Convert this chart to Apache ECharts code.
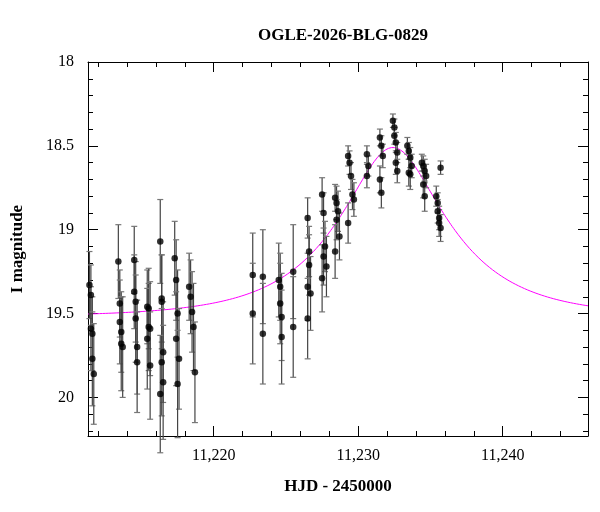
<!DOCTYPE html>
<html><head><meta charset="utf-8">
<script src="https://cdn.jsdelivr.net/npm/echarts@6/dist/echarts.min.js"></script>
<style>html,body{margin:0;padding:0;background:#fff}#c{width:600px;height:512px}</style>
</head><body><div id="c"></div>
<script>
// observation times (HJD-2450000)
const hjd = [
11211.4,11211.5,11211.5,11211.6,11211.6,11211.7,
11213.4,11213.5,11213.5,11213.6,11213.6,11213.7,
11214.5,11214.5,11214.6,11214.6,11214.7,11214.7,
11215.4,11215.5,11215.5,11215.6,11215.4,11215.6,
11216.3,11216.4,11216.4,11216.5,11216.4,11216.5,11216.3,
11217.3,11217.4,11217.5,11217.4,11217.6,11217.5,
11218.3,11218.4,11218.5,11218.6,11218.7,
11222.7,11222.7,
11223.4,11223.4,
11224.5,11224.6,11224.6,11224.7,11224.7,
11225.5,11225.5,
11226.5,11226.6,11226.6,11226.5,11226.7,11226.5,
11227.5,11227.6,11227.7,11227.6,11227.8,11227.5,
11228.4,11228.5,11228.6,11228.5,11228.7,11228.4,
11229.3,11229.4,11229.5,11229.6,11229.7,11229.3,
11230.6,11230.7,11230.6,
11231.5,11231.6,11231.7,11231.5,11231.6,
11232.4,11232.5,11232.5,11232.6,11232.7,11232.6,11232.7,
11233.4,11233.5,11233.6,11233.7,11233.5,11233.6,
11234.4,11234.5,11234.6,11234.7,11234.5,11234.6,
11235.7,11235.4,11235.5,11235.5,11235.6,11235.6,11235.7
];
// I magnitudes
const imag = [
19.33,19.39,19.59,19.62,19.77,19.86,
19.19,19.44,19.55,19.61,19.68,19.70,
19.18,19.37,19.43,19.53,19.70,19.79,
19.46,19.47,19.58,19.59,19.65,19.81,
19.07,19.41,19.43,19.73,19.79,19.91,19.98,
19.17,19.30,19.50,19.65,19.77,19.92,
19.34,19.40,19.49,19.58,19.85,
19.27,19.50,
19.28,19.62,
19.30,19.34,19.44,19.52,19.64,
19.25,19.58,
18.93,19.13,19.21,19.34,19.38,19.53,
18.79,18.90,19.10,19.16,19.22,19.29,
18.81,18.84,18.89,18.94,19.04,19.13,
18.56,18.60,18.68,18.79,18.82,18.96,
18.55,18.62,18.68,
18.45,18.50,18.56,18.70,18.78,
18.35,18.39,18.44,18.48,18.54,18.60,18.65,
18.50,18.53,18.57,18.62,18.66,18.67,
18.60,18.62,18.65,18.68,18.73,18.80,
18.63,18.80,18.84,18.89,18.93,18.96,18.99
];
// 1-sigma errors (mag)
const ierr = [
0.20,0.18,0.25,0.22,0.28,0.30,
0.22,0.20,0.25,0.24,0.28,0.30,
0.20,0.22,0.24,0.26,0.28,0.30,
0.22,0.24,0.26,0.28,0.30,0.32,
0.25,0.26,0.28,0.30,0.32,0.34,0.35,
0.22,0.24,0.26,0.28,0.30,0.32,
0.20,0.22,0.24,0.26,0.30,
0.25,0.30,
0.28,0.30,
0.22,0.20,0.24,0.26,0.28,
0.28,0.30,
0.12,0.15,0.18,0.20,0.22,0.24,
0.10,0.12,0.15,0.17,0.18,0.20,
0.08,0.10,0.12,0.12,0.14,0.16,
0.06,0.07,0.08,0.09,0.10,0.12,
0.05,0.06,0.07,
0.05,0.06,0.07,0.08,0.09,
0.04,0.05,0.05,0.06,0.06,0.07,0.07,
0.05,0.05,0.06,0.07,0.08,0.09,
0.05,0.06,0.07,0.07,0.08,0.09,
0.04,0.06,0.06,0.07,0.07,0.08,0.08
];
// Paczynski model parameters
const model = {t0: 11232.4, tE: 7.0, u0: 0.42, base: 19.52};
const xMin = 11211.3, xMax = 11245.9, yMin = 18, yMax = 20.23;

function modelMag(t){
  const tau=(t-model.t0)/model.tE, u=Math.sqrt(model.u0*model.u0+tau*tau);
  const A=(u*u+2)/(u*Math.sqrt(u*u+4));
  return model.base-2.5*Math.log10(A);
}
const curve=[];
for(let t=xMin;t<=xMax+1e-9;t+=0.1) curve.push([t,modelMag(t)]);
const pts=hjd.map((t,i)=>[t,imag[i],ierr[i]]);

const font='"Liberation Serif","DejaVu Serif",serif';
const chart=echarts.init(document.getElementById('c'));
const axBase={
  axisLine:{show:true,lineStyle:{color:'#000',width:1}},
  axisTick:{inside:true,length:10,lineStyle:{color:'#000'}},
  minorTick:{show:true,splitNumber:5,length:5,lineStyle:{color:'#000'}},
  splitLine:{show:false}
};
chart.setOption({
  animation:false,
  title:{text:'OGLE-2026-BLG-0829',left:338,top:22,textAlign:'center',
    textStyle:{fontFamily:font,fontSize:17,fontWeight:'bold',color:'#000'}},
  grid:{left:88,right:12,top:62,bottom:76},
  xAxis:[
    Object.assign({type:'value',min:xMin,max:xMax,splitNumber:4,position:'bottom',
      name:'HJD - 2450000',nameLocation:'middle',nameGap:42,
      nameTextStyle:{fontFamily:font,fontSize:17,fontWeight:'bold',color:'#000'},
      axisLabel:{fontFamily:font,fontSize:16,color:'#000',margin:12,showMinLabel:false,showMaxLabel:false}},axBase),
    Object.assign({type:'value',min:xMin,max:xMax,splitNumber:4,position:'top',axisLabel:{show:false}},axBase)
  ],
  yAxis:[
    Object.assign({type:'value',inverse:true,min:yMin,max:yMax,interval:0.5,position:'left',
      name:'I magnitude',nameLocation:'middle',nameGap:62,nameRotate:90,
      nameTextStyle:{fontFamily:font,fontSize:17,fontWeight:'bold',color:'#000'},
      axisLabel:{fontFamily:font,fontSize:16,color:'#000',margin:14,showMaxLabel:false,
        formatter:v=>String(+v.toFixed(1))}},axBase),
    Object.assign({type:'value',inverse:true,min:yMin,max:yMax,interval:0.5,position:'right',axisLabel:{show:false}},axBase)
  ],
  series:[
    {type:'line',data:curve,showSymbol:false,lineStyle:{color:'#ff00ff',width:1},z:1},
    {type:'custom',data:pts,z:2,renderItem:(p,api)=>{
      const t=api.value(0),m=api.value(1),e=api.value(2);
      const a=api.coord([t,m-e]),b=api.coord([t,m+e]);
      const st={stroke:'#444',lineWidth:1.2};
      return {type:'group',children:[
        {type:'line',shape:{x1:a[0],y1:a[1],x2:b[0],y2:b[1]},style:st},
        {type:'line',shape:{x1:a[0]-3,y1:a[1],x2:a[0]+3,y2:a[1]},style:{stroke:'#777',lineWidth:1.2}},
        {type:'line',shape:{x1:b[0]-3,y1:b[1],x2:b[0]+3,y2:b[1]},style:{stroke:'#777',lineWidth:1.2}}
      ]};
    }},
    {type:'scatter',data:pts,symbolSize:6.5,itemStyle:{color:'#000'},z:3}
  ]
});
</script></body></html>
